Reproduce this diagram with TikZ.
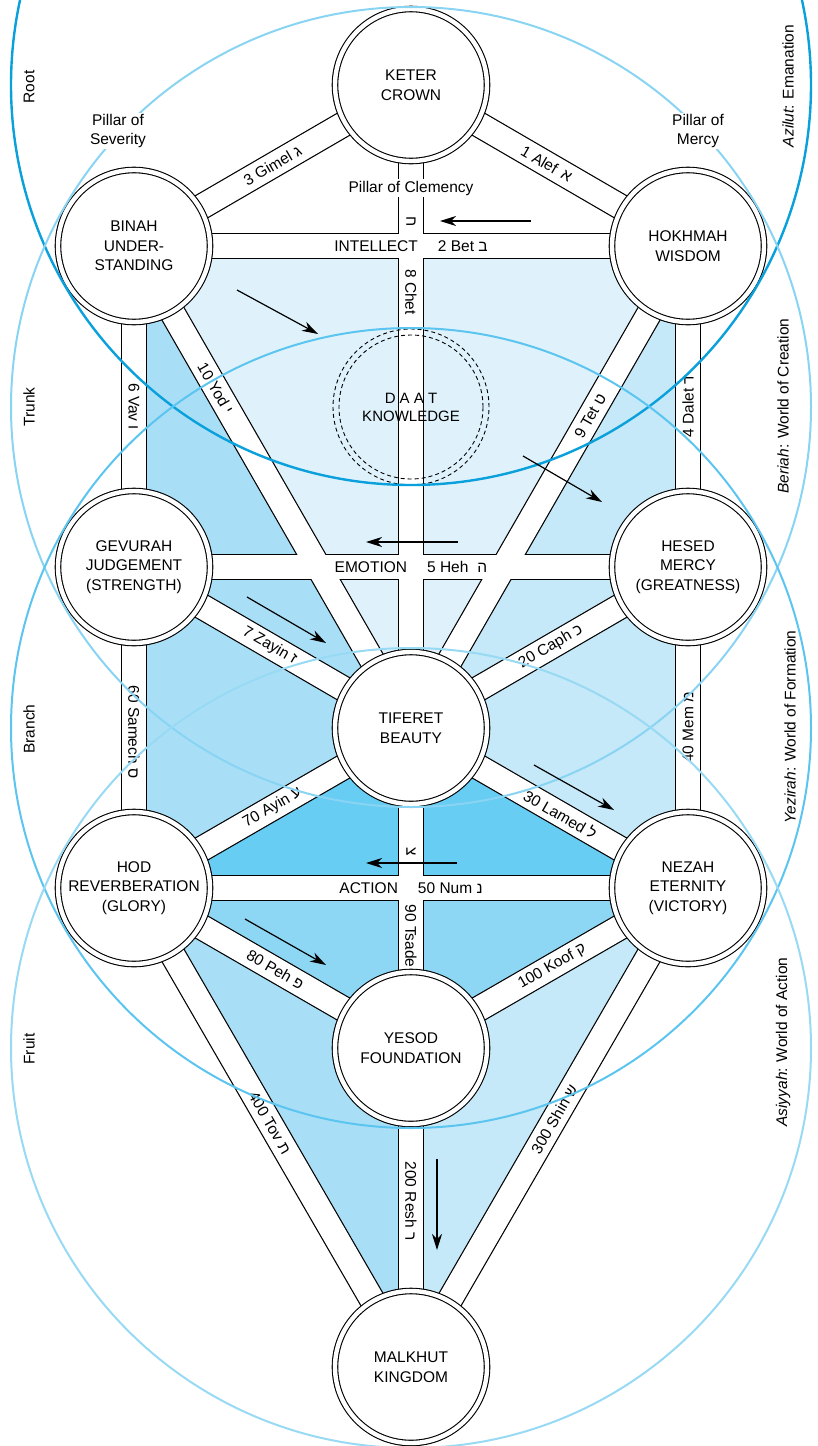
\documentclass[tikz,border=0pt]{standalone}
\usepackage{fontspec}
\setmainfont{Liberation Sans}
\usetikzlibrary{calc,arrows.meta}

\pgfdeclarelayer{fills}
\pgfdeclarelayer{paths}
\pgfdeclarelayer{worlds}
\pgfdeclarelayer{top}
\pgfsetlayers{fills,paths,main,worlds,top}

% region tints
\definecolor{tintpale}{HTML}{DFF2FB}
\definecolor{tintmid}{HTML}{A8DFF7}
\definecolor{tintlight}{HTML}{C5E9F8}
\definecolor{tintdeep}{HTML}{67CDF3}
\definecolor{tintlow}{HTML}{8DD7F5}
% the four worlds
\definecolor{azilutc}{HTML}{0AA0DC}
\definecolor{beriahc}{HTML}{8AD4F3}
\definecolor{yezirahc}{HTML}{5BC5F0}
\definecolor{asiyyahc}{HTML}{98D9F4}

\begin{document}
\begin{tikzpicture}[x=1pt, y=-1pt,
  every node/.style={font=\fontsize{15.5}{19.5}\selectfont, text=black},
  sefira/.style={circle, draw=black, line width=1.1pt, double=white,
    double distance=4.4pt, fill=white, minimum size=152pt, inner sep=0pt,
    align=center},
  lab/.style={inner sep=0pt},
  side/.style={inner sep=0pt, rotate=90},
  pillar/.style={align=center, fill=white, inner sep=1.5pt},
  flow/.style={-{Stealth[length=16pt, width=10pt, inset=5pt]}, line width=1.2pt},
  chanedge/.style={line width=26.4pt, draw=black},
  chanbody/.style={line width=24pt, draw=white},
  world/.style={line width=2pt},
]
\useasboundingbox (0,0) rectangle (817,1446);

% ---- the sefirot ----
\node[sefira] (keter)   at (411,85)   {KETER\\CROWN};
\node[sefira] (binah)   at (134,246)  {BINAH\\UNDER-\\STANDING};
\node[sefira] (hokhmah) at (688,246)  {HOKHMAH\\WISDOM};
\node[circle, draw=black, dashed, dash pattern=on 4pt off 3pt, line width=0.9pt,
      minimum size=156pt, inner sep=0pt, align=center, font=\fontsize{15}{18}\selectfont]
      (daat) at (411,407) {D A A T\\KNOWLEDGE};
\draw[dash pattern=on 4pt off 3pt, line width=0.9pt] (daat.center) circle[radius=72pt];
\node[sefira] (gevurah) at (134,567)  {GEVURAH\\JUDGEMENT\\(STRENGTH)};
\node[sefira] (hesed)   at (688,567)  {HESED\\MERCY\\(GREATNESS)};
\node[sefira] (tiferet) at (411,728)  {TIFERET\\BEAUTY};
\node[sefira] (hod)     at (134,888)  {HOD\\REVERBERATION\\(GLORY)};
\node[sefira] (nezah)   at (688,888)  {NEZAH\\ETERNITY\\(VICTORY)};
\node[sefira] (yesod)   at (411,1048) {YESOD\\FOUNDATION};
\node[sefira] (malkhut) at (411,1367) {MALKHUT\\KINGDOM};

% ---- tinted regions between the channels ----
\begin{pgfonlayer}{fills}
\fill[tintpale]  (binah.center) -- (hokhmah.center) -- (tiferet.center) -- cycle;
\fill[tintmid]   (binah.center) -- (tiferet.center) -- (hod.center) -- cycle;
\fill[tintlight] (hokhmah.center) -- (tiferet.center) -- (nezah.center) -- cycle;
\fill[tintdeep]  (hod.center) -- (tiferet.center) -- (nezah.center) -- cycle;
\fill[tintlow]   (hod.center) -- (nezah.center) -- (yesod.center) -- cycle;
\fill[tintmid]   (hod.center) -- (yesod.center) -- (malkhut.center) -- cycle;
\fill[tintlight] (nezah.center) -- (yesod.center) -- (malkhut.center) -- cycle;
\end{pgfonlayer}

% ---- the 22 channels: outline pass, then white body pass ----
\def\channels{keter/binah, keter/hokhmah, binah/hokhmah, keter/tiferet,
  binah/gevurah, hokhmah/hesed, binah/tiferet, hokhmah/tiferet,
  gevurah/hesed, gevurah/tiferet, hesed/tiferet, gevurah/hod, hesed/nezah,
  tiferet/hod, tiferet/nezah, hod/nezah, tiferet/yesod, hod/yesod,
  nezah/yesod, yesod/malkhut, hod/malkhut, nezah/malkhut}
\begin{pgfonlayer}{paths}
\foreach \a/\b in \channels { \draw[chanedge] (\a.center) -- (\b.center); }
\foreach \a/\b in \channels { \draw[chanbody] (\a.center) -- (\b.center); }
\end{pgfonlayer}

% ---- channel labels ----
\node[lab, rotate=30.2]  (l3)   at ($(binah)!0.5!(keter)$)     {3 Gimel ג};
\node[lab, rotate=-30.2] (l1)   at ($(keter)!0.49!(hokhmah)$)  {1 Alef \,א};
\node[lab]               (l2)   at ($(binah)!0.5!(hokhmah)$)   {INTELLECT\hspace{20pt}2 Bet ב};
\node[lab, rotate=-90]   (l8h)  at ($(keter)!0.213!(tiferet)$) {ח};
\node[lab, rotate=-90]   (l8)   at ($(keter)!0.322!(tiferet)$) {8 Chet};
\node[lab, rotate=-90]   (l6)   at ($(binah)!0.5!(gevurah)$)   {6 Vav ו};
\node[lab, rotate=90]    (l4)   at ($(hokhmah)!0.5!(hesed)$)   {4 Dalet ד};
\node[lab, rotate=-60.1] (l10)  at ($(binah)!0.295!(tiferet)$) {10 Yod י};
\node[lab, rotate=60.1]  (l9)   at ($(hokhmah)!0.353!(tiferet)$) {9 Tet ט};
\node[lab]               (l5)   at ($(gevurah)!0.5!(hesed)$)   {EMOTION\hspace{20pt}5 Heh\hspace{9pt}ה};
\node[lab, rotate=-30.2] (l7)   at ($(gevurah)!0.49!(tiferet)$) {7 Zayin ז};
\node[lab, rotate=30.2]  (l20)  at ($(tiferet)!0.505!(hesed)$) {20 Caph כ};
\node[lab, rotate=-30]   (l30)  at ($(tiferet)!0.54!(nezah)$)  {30 Lamed ל};
\node[lab, rotate=30]    (l70)  at ($(hod)!0.5!(tiferet)$)     {70 Ayin ע};
\node[lab, rotate=90]    (l40)  at ($(hesed)!0.5!(nezah)$)     {40 Mem מ};
\node[lab, rotate=-90]   (l60)  at ($(gevurah)!0.514!(hod)$)   {60 Samech ס};
\node[lab]               (l50)  at ($(hod)!0.5!(nezah)$)       {ACTION\hspace{20pt}50 Num נ};
\node[lab, rotate=-90]   (l90h) at ($(tiferet)!0.3875!(yesod)$) {צ};
\node[lab, rotate=-90]   (l90)  at ($(tiferet)!0.65!(yesod)$)  {90 Tsade};
\node[lab, rotate=-30]   (l80)  at ($(hod)!0.51!(yesod)$)      {80 Peh פ};
\node[lab, rotate=30]    (l100) at ($(yesod)!0.51!(nezah)$)    {100 Koof ק};
\node[lab, rotate=-60]   (l400) at ($(hod)!0.49!(malkhut)$)    {400 Tov ת};
\node[lab, rotate=60]    (l300) at ($(malkhut)!0.517!(nezah)$) {300 Shin ש};
\node[lab, rotate=-90]   (l200) at ($(yesod)!0.48!(malkhut)$)  {200 Resh ר};

% ---- the four worlds ----
\begin{pgfonlayer}{worlds}
\draw[world, azilutc, line width=2.4pt] (keter.center) circle[radius=400pt];
\draw[world, beriahc]  (daat.center)    circle[radius=400pt];
\draw[world, yezirahc] (tiferet.center) circle[radius=400pt];
\draw[world, asiyyahc] (yesod.center)   circle[radius=400pt];
\end{pgfonlayer}

% ---- flow arrows and side labels ----
\begin{pgfonlayer}{top}
\coordinate (f1s) at (531,221);  \coordinate (f1e) at (440,221);
\coordinate (f2s) at (237,290);  \coordinate (f2e) at (318,334);
\coordinate (f3s) at (523,456);  \coordinate (f3e) at (602,502);
\coordinate (f4s) at (458,542);  \coordinate (f4e) at (366,542);
\coordinate (f5s) at (247,597);  \coordinate (f5e) at (326,643);
\coordinate (f6s) at (534,765);  \coordinate (f6e) at (614,810);
\coordinate (f7s) at (457,863);  \coordinate (f7e) at (366,863);
\coordinate (f8s) at (245,919);  \coordinate (f8e) at (326,965);
\coordinate (f9s) at (437,1159); \coordinate (f9e) at (437,1250);
\foreach \i in {1,...,9} { \draw[flow] (f\i s) -- (f\i e); }

\node[pillar] (pclem) at (411,188) {Pillar of Clemency};
\node[pillar] (psev)  at (118,131) {Pillar of\\Severity};
\node[pillar] (pmer)  at (698,131) {Pillar of\\Mercy};

\node[side] (sroot)   at (29,87)   {Root};
\node[side] (strunk)  at (29,407)  {Trunk};
\node[side] (sbranch) at (29,729)  {Branch};
\node[side] (sfruit)  at (29,1049) {Fruit};

\node[side] (wazilut)  at (788,86)   {\itshape Azilut\upshape: Emanation};
\node[side] (wberiah)  at (783,406)  {\itshape Beriah\upshape: World of Creation};
\node[side] (wyezirah) at (790,727)  {\itshape Yezirah\upshape: World of Formation};
\node[side] (wasiyyah) at (783,1042) {\itshape Asiyyah\upshape: World of Action};
\end{pgfonlayer}
\end{tikzpicture}
\end{document}
